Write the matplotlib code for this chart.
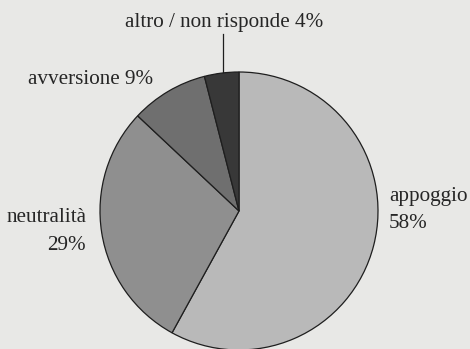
import matplotlib
matplotlib.use("Agg")
import matplotlib.pyplot as plt

# Survey responses (percent)
categories = ["appoggio", "neutralità", "avversione", "altro / non risponde"]
values = [58, 29, 9, 4]
colors = ["#b9b9b9", "#8f8f8f", "#6f6f6f", "#383838"]

W, H = 470, 349
fig = plt.figure(figsize=(W / 100, H / 100), dpi=100)
fig.patch.set_facecolor("#e8e8e6")
ax = fig.add_axes([0, 0, 1, 1])
ax.set_facecolor("#e8e8e6")

cx, cy, r = 239, 138, 139
wedges, _ = ax.pie(values, startangle=90, counterclock=False,
                   center=(cx, cy), radius=r, colors=colors,
                   wedgeprops=dict(edgecolor="#1e1e1e", linewidth=0.9))
ax.set_xlim(0, W)
ax.set_ylim(0, H)
ax.set_aspect("equal")
ax.axis("off")

font = dict(family="Liberation Serif", fontsize=15.2, color="#262626")

# Labels
ax.text(224, H - 22, f"{categories[3]} {values[3]}%", ha="center", va="center", **font)
ax.plot([223, 223], [H - 34, cy + r], color="#1e1e1e", linewidth=0.9)
ax.text(28, H - 80, f"{categories[2]} {values[2]}%", ha="left", va="center", **font)
ax.text(87, H - 218, categories[1], ha="right", va="center", **font)
ax.text(86, H - 246, f"{values[1]}%", ha="right", va="center", **font)
ax.text(389, H - 196, categories[0], ha="left", va="center", **font)
ax.text(389, H - 223, f"{values[0]}%", ha="left", va="center", **font)

fig.savefig("out.png", dpi=100, facecolor=fig.get_facecolor())
